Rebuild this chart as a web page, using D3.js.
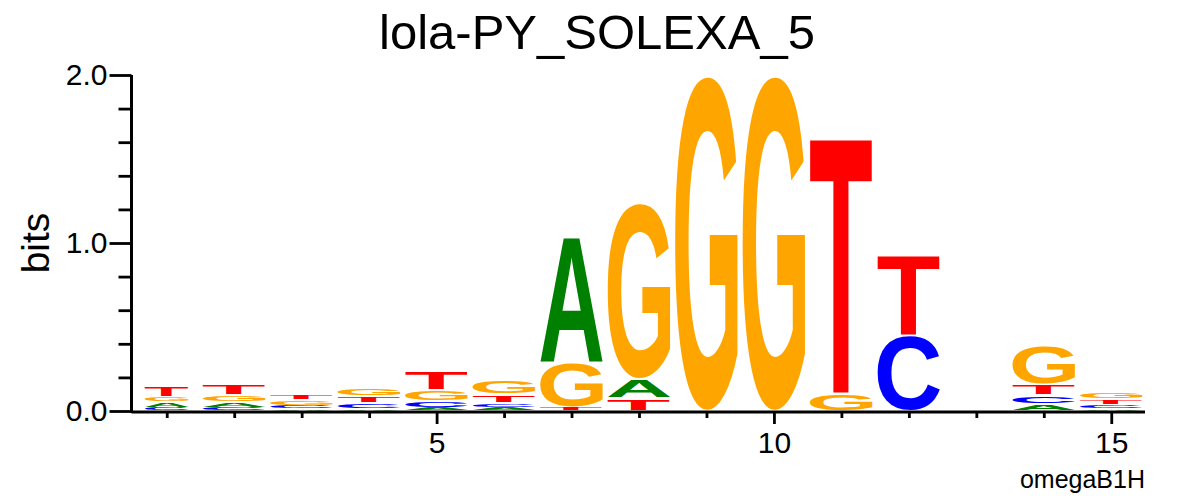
<!DOCTYPE html>
<html><head><meta charset="utf-8">
<script src="https://cdn.jsdelivr.net/npm/d3@7"></script>
<style>html,body{margin:0;padding:0;background:#fff;}svg{display:block;}</style>
</head><body>
<svg id="chart" width="1196" height="496"></svg>
<script>
// ---- data (bits per letter per position) ----
const positions = [1,2,3,4,5,6,7,8,9,10,11,12,13,14,15];
const bitsA = [0.033,0.034,0.013,0.013,0.018,0.021,0.756,0.113,0,0,0,0,0,0.042,0.014];
const bitsC = [0.018,0.018,0.017,0.032,0.042,0.028,0.004,0,0,0,0,0.452,0,0.054,0.022];
const bitsG = [0.033,0.040,0.036,0.054,0.065,0.083,0.268,1.045,1.995,1.995,0.104,0,0,0.229,0.045];
const bitsT = [0.068,0.068,0.036,0.045,0.110,0.052,0.018,0.077,0,0,1.539,0.488,0,0.0625,0.036];
const letters = ["A","C","G","T"];
const letterColors = {A:"#008000", C:"#0000ff", G:"#ffa500", T:"#ff0000"};
const yMajorTicks = [0, 1, 2];
const yMinorTicks = [0.2,0.4,0.6,0.8,1.2,1.4,1.6,1.8];
const xMajorTicks = [5, 10, 15];
const xMinorTicks = [1,2,3,4,6,7,8,9,11,12,13,14];
const titleText = "lola-PY_SOLEXA_5";
const yLabel = "bits";
const cornerText = "omegaB1H";

const svg = d3.select("#chart");
const x = d3.scaleLinear().domain([0.5, 15.5]).range([133, 1145]);
const y = d3.scaleLinear().domain([0, 2]).range([411, 75]);
const FONT = "Liberation Sans, Arial, Helvetica, sans-serif";

// measure glyph bounds with canvas
const cv = document.createElement("canvas").getContext("2d");
cv.font = "bold 100px 'Liberation Sans'";
const metrics = {};
letters.forEach(l => {
  const m = cv.measureText(l);
  metrics[l] = {L: m.actualBoundingBoxLeft, R: m.actualBoundingBoxRight,
                A: m.actualBoundingBoxAscent, D: m.actualBoundingBoxDescent};
});

const table = {A: bitsA, C: bitsC, G: bitsG, T: bitsT};
const gLogo = svg.append("g");
positions.forEach((p, i) => {
  const stack = letters.map(l => ({l, v: table[l][i]})).filter(d => d.v > 0)
    .sort((a, b) => a.v - b.v);
  const frac = i === 0 ? 0.65 : 0.93;
  const w = (x(p + 0.5) - x(p - 0.5)) * frac;
  const x0 = x(p) - w / 2;
  let cum = 0;
  stack.forEach(d => {
    const yBot = y(cum), yTop = y(cum + d.v);
    cum += d.v;
    const hBox = yBot - yTop;
    const pad = Math.min(1.1, hBox * 0.18);
    const h = hBox - 2 * pad;
    if (h <= 0) return;
    const m = metrics[d.l];
    const sx = w / (m.L + m.R), sy = h / (m.A + m.D);
    gLogo.append("text")
      .attr("transform", `translate(${x0},${yTop + pad}) scale(${sx},${sy}) translate(${m.L},${m.A})`)
      .attr("font-family", "Liberation Sans").attr("font-weight", "bold")
      .attr("font-size", 100).attr("fill", letterColors[d.l]).text(d.l);
  });
});

// y axis
const yMaj = d3.axisLeft(y).tickValues(yMajorTicks).tickSize(22).tickSizeOuter(0)
  .tickPadding(2).tickFormat(d3.format(".1f"));
const gy = svg.append("g").attr("transform", "translate(131.5,0)").call(yMaj);
svg.append("g").attr("transform", "translate(131.5,0)")
  .call(d3.axisLeft(y).tickValues(yMinorTicks).tickSize(13).tickSizeOuter(0).tickFormat(""))
  .select(".domain").remove();
// x axis
const gx = svg.append("g").attr("transform", "translate(0,412)")
  .call(d3.axisBottom(x).tickValues(xMajorTicks).tickSize(12).tickSizeOuter(0).tickPadding(8).tickFormat(d3.format("d")));
svg.append("g").attr("transform", "translate(0,412)")
  .call(d3.axisBottom(x).tickValues(xMinorTicks).tickSize(6).tickSizeOuter(0).tickFormat(""))
  .select(".domain").remove();
svg.selectAll(".domain").attr("stroke", "#000").attr("stroke-width", 3);
svg.selectAll(".tick line").attr("stroke", "#000").attr("stroke-width", 2.8);
svg.selectAll(".tick text").attr("font-family", FONT).attr("font-size", 30).attr("fill", "#000");
gy.select(".domain").attr("d", `M0,${y(2)}V${y(0) + 2}`);
gx.select(".domain").attr("d", `M${x(0.5) - 1.5},0H${x(15.5)}`);

// texts
svg.append("text").attr("x", 597).attr("y", 49).attr("text-anchor", "middle")
  .attr("font-family", FONT).attr("font-size", 49).attr("fill", "#000").text(titleText);
svg.append("text").attr("transform", `translate(49,243) rotate(-90)`).attr("text-anchor", "middle")
  .attr("font-family", FONT).attr("font-size", 39).attr("fill", "#000").text(yLabel);
svg.append("text").attr("x", 1145).attr("y", 488).attr("text-anchor", "end")
  .attr("font-family", FONT).attr("font-size", 25).attr("fill", "#000").text(cornerText);
</script>
</body></html>
